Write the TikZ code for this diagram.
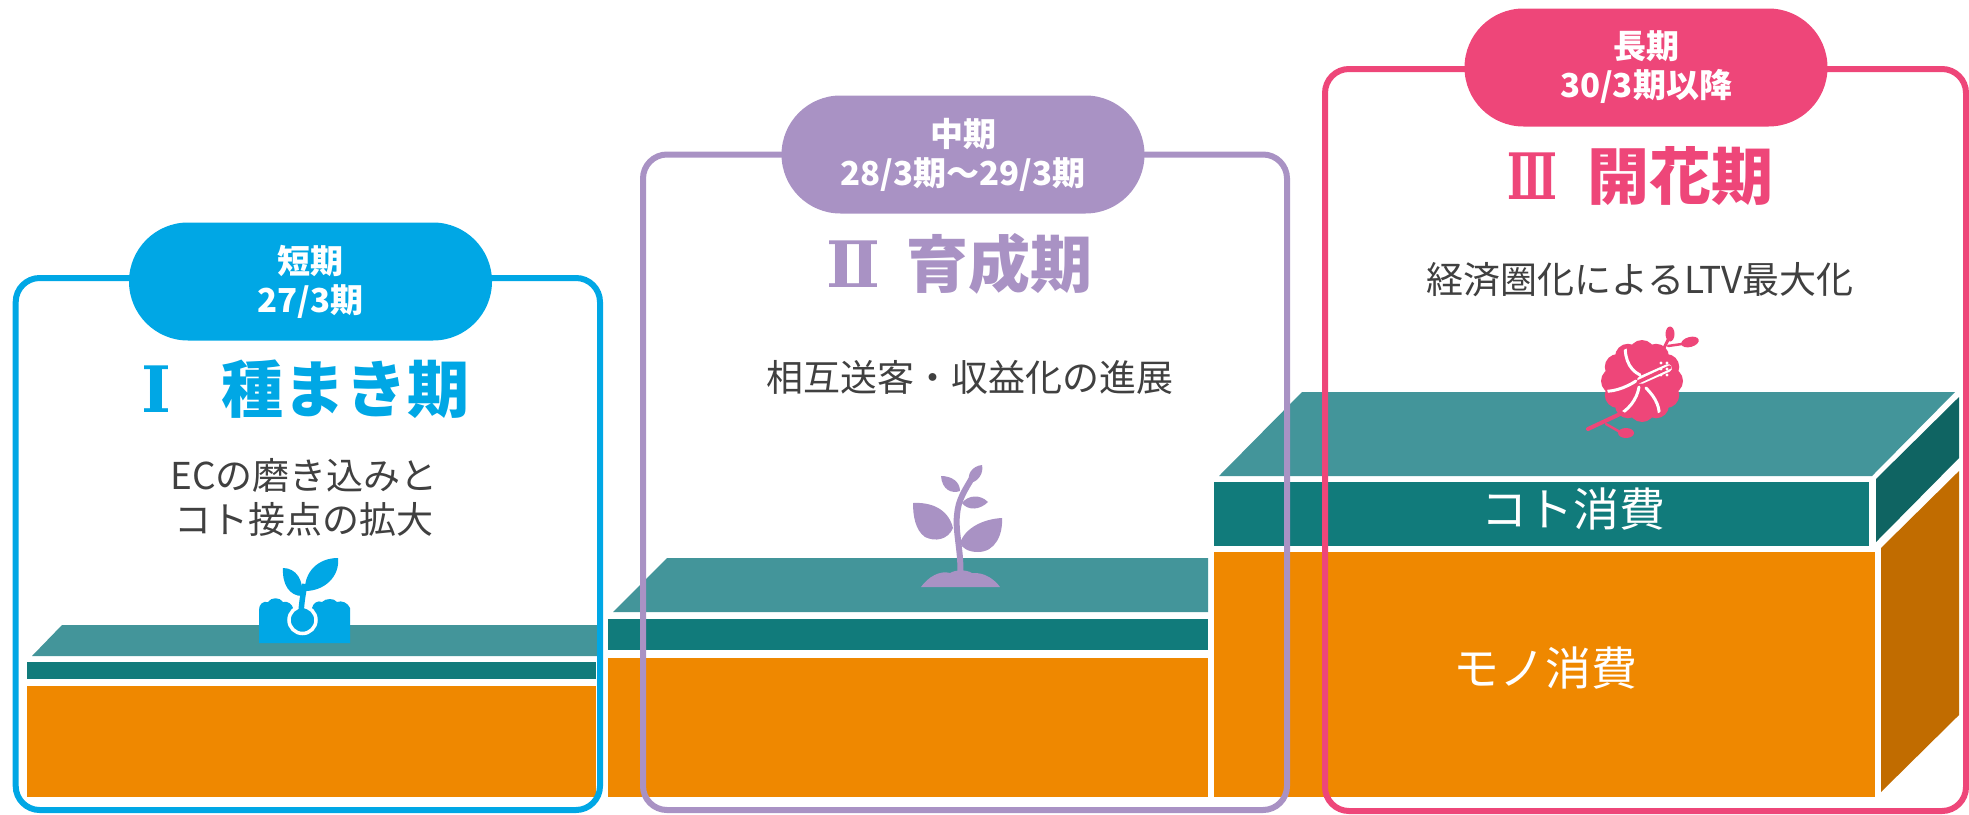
\documentclass[tikz,border=0pt]{standalone}
\usepackage{fontspec}
\usepackage{graphicx}
\newfontfamily\jp{Noto Sans CJK JP}
\newfontfamily\numfont{DejaVu Serif}
\definecolor{cblue}{HTML}{00A7E5}
\definecolor{cpurple}{HTML}{A992C4}
\definecolor{cpink}{HTML}{EE4679}
\definecolor{tealtop}{HTML}{43959A}
\definecolor{tealfront}{HTML}{117B7B}
\definecolor{tealside}{HTML}{0F6462}
\definecolor{orfront}{HTML}{EF8800}
\definecolor{orside}{HTML}{C16C00}
\definecolor{txtgray}{HTML}{404040}
\newcommand{\romnum}[2][1]{\makebox[80pt][l]{\scalebox{#1}[1]{\numfont\bfseries\fontsize{64}{70}\selectfont #2}}}
\tikzset{
  framebox/.style={line width=6pt, rounded corners=24pt},
  pill/.style={rounded corners=59pt, minimum width=363pt, minimum height=118pt,
    inner sep=0pt, text=white, align=center,
    font=\jp\bfseries\fontsize{33}{39}\selectfont},
  phase/.style={inner sep=0pt, anchor=west, font=\jp\bfseries\fontsize{62}{70}\selectfont},
  subtext/.style={inner sep=0pt, text=txtgray, align=center,
    font=\jp\fontsize{37}{44}\selectfont},
  layerlabel/.style={inner sep=0pt, text=white, font=\jp\fontsize{46}{50}\selectfont},
  vein/.style={white, line width=3pt, line cap=round},
}
\begin{document}
\begin{tikzpicture}[x=1pt,y=-1pt]
\useasboundingbox (0,0) rectangle (1969,814);

% ---- stage I block
\fill[tealtop] (32,656) -- (62,625) -- (597,625) -- (597,656) -- cycle;
\fill[tealfront] (27,662) rectangle (596,679);
\fill[orfront] (27,685.5) rectangle (596,797);

% ---- stage II block
\fill[tealtop] (613,612) -- (667,558) -- (1208,558) -- (1208,612) -- cycle;
\fill[tealfront] (608,619) rectangle (1208,650);
\fill[orfront] (608,658) rectangle (1208,797);

% ---- stage III block (with side faces)
\fill[tealtop] (1219,476) -- (1302,392) -- (1955,392) -- (1872,476) -- cycle;
\fill[tealfront] (1214,482) rectangle (1869,546);
\fill[tealside] (1876,479) -- (1959,397) -- (1959,458) -- (1876,542) -- cycle;
\fill[orfront] (1214,552) rectangle (1875,797);
\fill[orside] (1881,548) -- (1959,471) -- (1959,715) -- (1881,792) -- cycle;

% ---- frames
\draw[framebox, cblue] (15.7,278) rectangle (600,810);
\draw[framebox, cpurple] (643,154.5) rectangle (1287,810);
\draw[framebox, cpink] (1325,69) rectangle (1966,811);

% ---- period pills
\node[pill, fill=cblue] (pillshort) at (310.5,281.5) {短期\\27/3期};
\node[pill, fill=cpurple] (pillmid) at (963,154.5) {中期\\28/3期～29/3期};
\node[pill, fill=cpink] (pilllong) at (1646,67.5) {長期\\30/3期以降};

% ---- phase titles
\node[phase, text=cblue] (phaseone) at (141,389) {\romnum{Ⅰ}種まき期};
\node[phase, text=cpurple] (phasetwo) at (826,264) {\romnum{Ⅱ}育成期};
\node[phase, text=cpink] (phasethree) at (1507,176) {\romnum[0.64]{Ⅲ}開花期};

% ---- descriptions
\node[subtext] (descone) at (304,497) {ECの磨き込みと\\コト接点の拡大};
\node[subtext] (desctwo) at (970,377) {相互送客・収益化の進展};
\node[subtext] (descthree) at (1640,280) {経済圏化によるLTV最大化};

% ---- layer labels
\node[layerlabel] (koto) at (1573,509) {コト消費};
\node[layerlabel] (mono) at (1545,668) {モノ消費};

% ---- seed icon
\fill[cblue] (259,643) -- (259,610) .. controls (259,604) and (263,601) .. (268,602)
  .. controls (271,597) and (280,597) .. (283,602) .. controls (288,601) and (292,604) .. (293,608)
  -- (312,608) .. controls (313,603) and (318,600) .. (322,602)
  .. controls (326,598) and (334,598) .. (337,602) .. controls (342,600) and (348,603) .. (350,608)
  -- (350,643) -- cycle;
\draw[white, line width=3.5pt, fill=cblue] (302.5,620) circle (13.5);
\draw[cblue, line width=5.5pt] (301,612) .. controls (302,600) and (303,594) .. (305,584);
\fill[cblue] (302,596) .. controls (290,596) and (282,585) .. (283,568)
  .. controls (296,568) and (304,580) .. (302,596) -- cycle;
\fill[cblue] (305,591) .. controls (304,572) and (318,558) .. (338,558)
  .. controls (340,576) and (325,591) .. (305,591) -- cycle;

% ---- sprout icon
\fill[cpurple] (921,587) .. controls (928,577) and (940,570) .. (950,573)
  .. controls (955,570) and (965,569) .. (972,573) .. controls (985,572) and (995,580) .. (1000,587) -- cycle;
\draw[cpurple, line width=6pt, line cap=round] (960,575) .. controls (962,555) and (955,532) .. (957,515)
  .. controls (958,500) and (965,490) .. (972,478);
\fill[cpurple] (913,503) .. controls (930,502) and (948,508) .. (953,528)
  .. controls (948,540) and (935,542) .. (925,537) .. controls (915,530) and (913,515) .. (913,503) -- cycle;
\fill[cpurple] (1002,518) .. controls (1003,535) and (995,552) .. (978,552)
  .. controls (968,552) and (962,548) .. (960,543) .. controls (965,528) and (983,519) .. (1002,518) -- cycle;
\fill[cpurple] (941,476) .. controls (952,476) and (960,482) .. (960,491)
  .. controls (952,494) and (942,490) .. (941,476) -- cycle;
\fill[cpurple] (962,503) .. controls (968,495) and (980,494) .. (988,502)
  .. controls (980,510) and (968,511) .. (962,503) -- cycle;
\fill[cpurple] (970,483) .. controls (966,475) and (972,466) .. (982,465)
  .. controls (984,473) and (978,482) .. (970,483) -- cycle;

% ---- hibiscus icon
\coordinate (fc) at (1642,381);
% buds and stems behind the blossom
\draw[cpink, line width=3pt, line cap=round] (1660,356) -- (1669,338);
\fill[cpink] (1670,334) ellipse (4.5 and 7.5);
\draw[cpink, line width=2.5pt, line cap=round] (1668,346) -- (1682,344);
\fill[cpink, rotate around={15:(1690,342)}] (1690,342) ellipse (9 and 5);
\draw[cpink, line width=4pt, line cap=round] (1588,429) -- (1620,414);
\draw[cpink, line width=2.5pt, line cap=round] (1606,424) -- (1620,432);
\fill[cpink] (1626,433) ellipse (8 and 5);
% scalloped blossom
\fill[cpink] (fc) circle (29);
\foreach \a in {0,30,...,330} { \fill[cpink, shift={(fc)}] (\a:28) circle (13); }
% petal divisions swirling out from the centre
\begin{scope}
  \clip (fc) circle (36);
  \draw[vein] (1640,375) .. controls (1628,369) and (1623,356) .. (1626,336);
  \draw[vein] (1636,381) .. controls (1625,388) and (1612,393) .. (1597,391);
  \draw[vein] (1639,387) .. controls (1637,399) and (1629,411) .. (1613,418);
  \draw[vein] (1646,388) .. controls (1656,398) and (1661,408) .. (1659,422);
\end{scope}
% stamen
\draw[white, line width=8pt, line cap=round] (1641,380) -- (1668,368);
\draw[cpink, line width=3.5pt, line cap=round] (1638,382) -- (1670,367);
\foreach \px/\py in {1661/363,1667/363,1661/369,1667/369,1661/375,1667/375} { \fill[white] (\px,\py) circle (1.6); }
\end{tikzpicture}
\end{document}
